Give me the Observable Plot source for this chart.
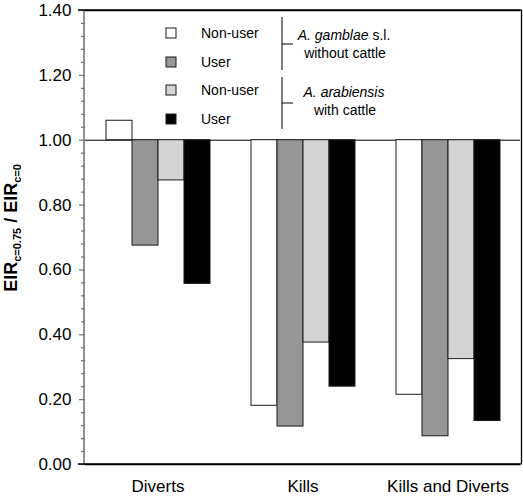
<!DOCTYPE html>
<html>
<head>
<meta charset="utf-8">
<script src="https://cdn.jsdelivr.net/npm/d3@7"></script>
<script src="https://cdn.jsdelivr.net/npm/@observablehq/plot@0.6"></script>
<style>
  html, body { margin: 0; padding: 0; background: #fff; }
  #chart { width: 523px; height: 496px; }
</style>
</head>
<body>
<div id="chart"></div>
<script>
// ---- data ----
const categories = ["Diverts", "Kills", "Kills and Diverts"];
const seriesKeys = ["gambiae non-user", "gambiae user", "arabiensis non-user", "arabiensis user"];
const seriesColors = ["#ffffff", "#969696", "#d4d4d4", "#000000"];
const gambiaeNonUser = [1.06, 0.181, 0.215];
const gambiaeUser = [0.675, 0.117, 0.087];
const arabiensisNonUser = [0.876, 0.376, 0.325];
const arabiensisUser = [0.557, 0.240, 0.134];
const legendLabels = ["Non-user", "User", "Non-user", "User"];
const groupSpecies = ["A. gamblae", "A. arabiensis"];
const groupSuffix = [" s.l.", ""];
const groupSecond = ["without cattle", "with cattle"];
const yMajorTicks = [0, 0.2, 0.4, 0.6, 0.8, 1.0, 1.2, 1.4];
const baseline = 1.0;

const seriesValues = [gambiaeNonUser, gambiaeUser, arabiensisNonUser, arabiensisUser];
const data = [];
categories.forEach((c, i) => {
  seriesKeys.forEach((s, j) => data.push({category: c, series: s, value: seriesValues[j][i]}));
});
const yMinorTicks = d3.range(0, 36).map(i => i * 0.04).filter(v => !yMajorTicks.some(t => Math.abs(t - v) < 1e-6));

const W = 523, H = 496;
const mt = 10, mb = 32, ml = 84, mr = 1.5;

const plot = Plot.plot({
  width: W,
  height: H,
  marginTop: mt,
  marginBottom: mb,
  marginLeft: ml,
  marginRight: mr,
  style: {fontFamily: "Arial, 'Liberation Sans', sans-serif", fontSize: "17px", color: "#000", background: "#fff"},
  fx: {domain: categories, padding: 0, label: null, axis: "bottom", tickSize: 0, tickPadding: 15},
  x: {type: "band", domain: seriesKeys, paddingInner: 0, paddingOuter: 0.735, axis: null},
  y: {domain: [0, 1.4], label: null, axis: null},
  color: {domain: seriesKeys, range: seriesColors},
  marks: [
    Plot.ruleY([baseline], {stroke: "#000", strokeWidth: 1}),
    Plot.barY(data, {fx: "category", x: "series", y1: baseline, y2: "value", fill: "series", stroke: "#1a1a1a", strokeWidth: 1}),
    Plot.ruleY([0, 1.4], {stroke: "#000", strokeWidth: 1.3}),
    Plot.axisY({ticks: yMinorTicks, tickSize: 4, text: null, stroke: "#707070", strokeWidth: 1.2}),
    Plot.axisY({ticks: yMajorTicks, tickSize: 6, tickPadding: 8, stroke: "#707070", strokeWidth: 1.2, tickFormat: d3.format(".2f"), fontSize: 17, fill: "#000", label: null})
  ]
});

document.getElementById("chart").appendChild(plot);

// ---- frame lines, legend, y label ----
const svg = d3.select(plot);
const ys = plot.scale("y");
const yTop = ys.apply(1.4), yBot = ys.apply(0);
const xL = ml, xR = W - mr;
svg.append("line").attr("x1", xL).attr("x2", xL).attr("y1", yTop).attr("y2", yBot)
  .attr("stroke", "#707070").attr("stroke-width", 1.5);
svg.append("line").attr("x1", xR).attr("x2", xR).attr("y1", yTop).attr("y2", yBot)
  .attr("stroke", "#000").attr("stroke-width", 1.3);
svg.append("line").attr("x1", xL - 6).attr("x2", xR).attr("y1", yTop).attr("y2", yTop)
  .attr("stroke", "#000").attr("stroke-width", 1.3);
svg.append("line").attr("x1", xL - 6).attr("x2", xR).attr("y1", yBot).attr("y2", yBot)
  .attr("stroke", "#000").attr("stroke-width", 1.3);

const leg = svg.append("g").attr("font-family", "Arial, 'Liberation Sans', sans-serif").attr("font-size", 14)
  .attr("text-anchor", "start").attr("fill", "#000");
const rowY = [33, 62, 90, 119];
legendLabels.forEach((lab, i) => {
  leg.append("rect").attr("x", 166).attr("y", rowY[i] - 5).attr("width", 10).attr("height", 10)
    .attr("fill", seriesColors[i]).attr("stroke", "#1a1a1a").attr("stroke-width", 1);
  leg.append("text").attr("x", 201).attr("y", rowY[i]).attr("dy", "0.35em").attr("text-anchor", "start").text(lab);
});
const brTop = [17, 77], brBot = [70, 129], brMid = [44, 103];
const txt1 = [35, 92], txt2 = [53, 110];
groupSpecies.forEach((sp, i) => {
  leg.append("line").attr("x1", 282).attr("x2", 282).attr("y1", brTop[i]).attr("y2", brBot[i]).attr("stroke", "#000");
  leg.append("line").attr("x1", 282).attr("x2", 293).attr("y1", brMid[i]).attr("y2", brMid[i]).attr("stroke", "#000");
  const t = leg.append("text").attr("x", 344).attr("y", txt1[i]).attr("dy", "0.35em").attr("text-anchor", "middle");
  t.append("tspan").attr("font-style", "italic").text(sp);
  if (groupSuffix[i]) t.append("tspan").text(groupSuffix[i]);
  leg.append("text").attr("x", 345).attr("y", txt2[i]).attr("dy", "0.35em").attr("text-anchor", "middle").text(groupSecond[i]);
});

const yl = svg.append("text")
  .attr("transform", "translate(17,228) rotate(-90)")
  .attr("text-anchor", "middle")
  .attr("font-family", "Arial, 'Liberation Sans', sans-serif")
  .attr("font-weight", "bold")
  .attr("font-size", 18);
yl.append("tspan").text("EIR");
yl.append("tspan").attr("font-size", 11).attr("dy", 4).text("c=0.75");
yl.append("tspan").attr("dy", -4).text(" / EIR");
yl.append("tspan").attr("font-size", 11).attr("dy", 4).text("c=0");
</script>
</body>
</html>
